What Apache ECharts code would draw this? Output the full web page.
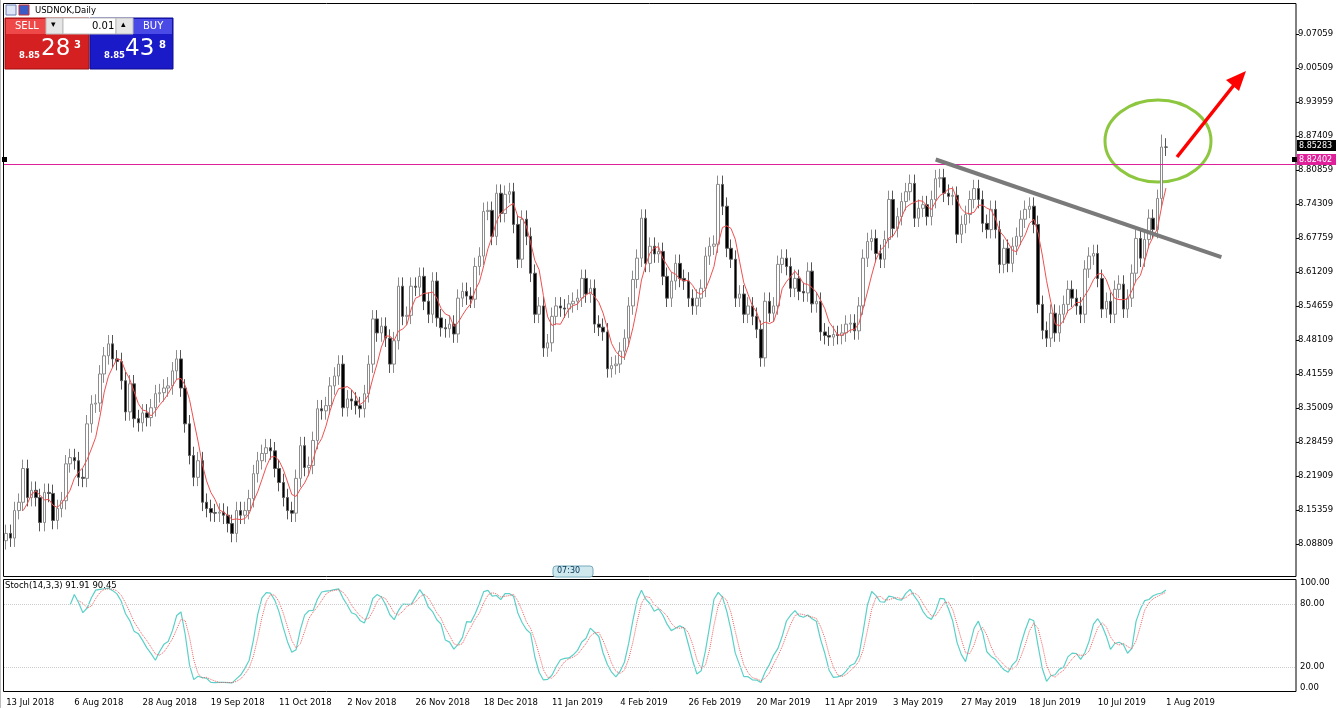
<!DOCTYPE html>
<html><head><meta charset="utf-8">
<script src="https://cdn.jsdelivr.net/npm/echarts@6/dist/echarts.min.js"></script>
<style>html,body{margin:0;padding:0;background:#fff}#c{width:1338px;height:708px}</style>
</head><body><div id="c"></div>
<script>
// Daily closes of USDNOK, 13 Jul 2018 .. 1 Aug 2019
const closes = [
8.109,8.100,8.153,8.169,8.234,8.178,8.192,8.178,8.130,8.188,8.186,8.134,8.157,8.172,8.243,8.255,
8.249,8.217,8.215,8.320,8.358,8.360,8.416,8.451,8.474,8.445,8.440,8.403,8.343,8.397,8.330,8.322,
8.341,8.332,8.351,8.378,8.380,8.389,8.393,8.422,8.445,8.389,8.320,8.259,8.217,8.249,8.169,8.157,
8.149,8.148,8.150,8.144,8.128,8.109,8.153,8.144,8.153,8.176,8.224,8.249,8.263,8.274,8.268,8.234,
8.207,8.178,8.153,8.148,8.215,8.278,8.236,8.240,8.288,8.349,8.345,8.355,8.393,8.412,8.435,8.351,
8.368,8.364,8.355,8.349,8.378,8.435,8.522,8.495,8.508,8.485,8.435,8.480,8.585,8.527,8.529,8.585,
8.583,8.604,8.556,8.531,8.595,8.524,8.505,8.503,8.512,8.493,8.562,8.575,8.566,8.560,8.623,8.643,
8.729,8.731,8.681,8.764,8.725,8.762,8.767,8.704,8.637,8.714,8.681,8.610,8.531,8.547,8.466,8.476,
8.527,8.547,8.543,8.541,8.551,8.556,8.562,8.600,8.570,8.581,8.512,8.506,8.497,8.426,8.432,8.435,
8.460,8.485,8.547,8.598,8.639,8.716,8.629,8.662,8.647,8.652,8.604,8.562,8.595,8.629,8.600,8.595,
8.562,8.547,8.562,8.581,8.643,8.662,8.666,8.781,8.739,8.658,8.637,8.562,8.570,8.531,8.547,8.527,
8.502,8.447,8.556,8.533,8.547,8.627,8.639,8.623,8.581,8.600,8.575,8.572,8.614,8.551,8.556,8.497,
8.490,8.487,8.492,8.490,8.495,8.512,8.514,8.499,8.547,8.639,8.671,8.677,8.648,8.637,8.675,8.752,
8.696,8.719,8.748,8.767,8.783,8.716,8.735,8.742,8.719,8.752,8.792,8.794,8.764,8.758,8.760,8.685,
8.704,8.723,8.752,8.773,8.752,8.706,8.694,8.733,8.694,8.627,8.658,8.629,8.662,8.681,8.714,8.733,
8.739,8.704,8.550,8.500,8.485,8.533,8.495,8.531,8.550,8.579,8.562,8.547,8.531,8.618,8.643,8.648,
8.600,8.541,8.556,8.531,8.579,8.589,8.541,8.562,8.610,8.677,8.639,8.675,8.716,8.694,8.754,8.853,
8.8528
];
const wick = 0.017;
const levelPrice = 8.82402;
const lastPrice = 8.85283;
const stochTicks = [0,20,80,100];
const totalSlots = 303;

const mon = ['Jan','Feb','Mar','Apr','May','Jun','Jul','Aug','Sep','Oct','Nov','Dec'];
const cats = [];
let d = new Date(Date.UTC(2018,6,13));
while (cats.length < totalSlots) {
  const wd = d.getUTCDay(), m = d.getUTCMonth(), dd = d.getUTCDate();
  if (wd!==0 && wd!==6 && !(m===11&&dd===25) && !(m===0&&dd===1)) cats.push(dd+' '+mon[m]+' '+d.getUTCFullYear());
  d = new Date(d.getTime()+86400000);
}
const ohlc = closes.map((c,i)=>{
  const o = i===0 ? 8.095 : closes[i-1];
  let h = Math.max(o,c)+wick, l = Math.min(o,c)-wick;
  if (i===271) h = 8.877;
  return [o,c,l,h];
});
const ma = closes.map((c,i)=> i<4?null: +(closes.slice(i-4,i+1).reduce((a,b)=>a+b,0)/5).toFixed(5));
const kArr=[], dArr=[];
for (let i=0;i<ohlc.length;i++){
  if (i<15){kArr.push(null);continue;}
  let num=0,den=0;
  for (let j=i-2;j<=i;j++){
    let hh=-1e9,ll=1e9;
    for (let k=j-13;k<=j;k++){hh=Math.max(hh,ohlc[k][3]);ll=Math.min(ll,ohlc[k][2]);}
    num+=closes[j]-ll; den+=hh-ll;
  }
  kArr.push(+(100*num/den).toFixed(2));
}
for (let i=0;i<kArr.length;i++){
  if (i<17||kArr[i-2]==null){dArr.push(null);continue;}
  dArr.push(+((kArr[i]+kArr[i-1]+kArr[i-2])/3).toFixed(2));
}
const font = 'DejaVu Sans';
const chart = echarts.init(document.getElementById('c'));
chart.setOption({
  animation:false,
  backgroundColor:'#fff',
  grid:[{left:4,right:42,top:-2.1,height:580.4},{left:4,right:42,top:583,height:105}],
  xAxis:[
    {type:'category',data:cats,gridIndex:0,boundaryGap:true,axisLine:{show:false},axisTick:{show:false},axisLabel:{show:false},splitLine:{show:false}},
    {type:'category',data:cats,gridIndex:1,boundaryGap:true,axisLine:{show:false},axisTick:{show:false},splitLine:{show:false},
     axisLabel:{interval:0,formatter:(v,i)=> (i%16===0 && i<=272)? v : '',align:'left',fontSize:8.5,fontFamily:font,color:'#000',margin:10}}
  ],
  yAxis:[
    {type:'value',gridIndex:0,position:'right',min:8.02259,max:9.13609,interval:0.0655,
     axisLine:{show:false},axisTick:{show:true,length:3,lineStyle:{color:'#000'}},splitLine:{show:false},
     axisLabel:{showMinLabel:false,showMaxLabel:false,fontSize:8.5,fontFamily:font,color:'#000',margin:2,formatter:v=>v.toFixed(5)}},
    {type:'value',gridIndex:1,position:'right',min:0,max:100,
     axisLine:{show:false},axisTick:{show:false},splitLine:{show:false},
     axisLabel:{fontSize:8.5,fontFamily:font,color:'#000',margin:4,customValues:stochTicks,formatter:v=>v.toFixed(2)}}
  ],
  series:[
    {type:'candlestick',xAxisIndex:0,yAxisIndex:0,data:ohlc,barWidth:3,
     itemStyle:{color:'#fff',color0:'#000',borderColor:'#8c8c8c',borderColor0:'#555',borderWidth:1},
     markLine:{silent:true,symbol:'none',animation:false,data:[
       {yAxis:levelPrice,lineStyle:{color:'#e0209a',width:1.2,type:'solid'},label:{show:false}},
       [{coord:[218.4,8.829]},{coord:[284.9,8.641]}]
     ],lineStyle:{color:'#7a7a7a',width:4,type:'solid'},label:{show:false}}
    },
    {type:'line',xAxisIndex:0,yAxisIndex:0,data:ma,showSymbol:false,lineStyle:{color:'#f05050',width:1}},
    {type:'line',xAxisIndex:1,yAxisIndex:1,data:kArr,showSymbol:false,lineStyle:{color:'#5bd0c8',width:1.2},
     markLine:{silent:true,symbol:'none',label:{show:false},lineStyle:{color:'#ccc',type:'dotted',width:1},data:[{yAxis:80},{yAxis:20}]}},
    {type:'line',xAxisIndex:1,yAxisIndex:1,data:dArr,showSymbol:false,lineStyle:{color:'#f06060',width:1,type:'dotted'}}
  ],
  graphic:[
    {type:'rect',shape:{x:3.5,y:3.5,width:1292.5,height:573},style:{fill:null,stroke:'#000',lineWidth:1},silent:true},
    {type:'rect',shape:{x:3.5,y:579.5,width:1292.5,height:112},style:{fill:null,stroke:'#000',lineWidth:1},silent:true},
    {type:'rect',shape:{x:0,y:0,width:1,height:708},style:{fill:'#bbb'}},
    {type:'rect',shape:{x:1297,y:154,width:39,height:11},style:{fill:'#e0209a'}},
    {type:'text',x:1299,y:155.5,style:{text:levelPrice.toFixed(5),fill:'#fff',font:'8px DejaVu Sans'}},
    {type:'rect',shape:{x:1297,y:140,width:39,height:11},style:{fill:'#000'}},
    {type:'text',x:1299,y:141.5,style:{text:lastPrice.toFixed(5),fill:'#fff',font:'8px DejaVu Sans'}},
    {type:'rect',shape:{x:2,y:157,width:5,height:5},style:{fill:'#000'}},
    {type:'rect',shape:{x:1292,y:157,width:5,height:5},style:{fill:'#000'}},
    {type:'ellipse',shape:{cx:1158,cy:141,rx:53,ry:41},style:{fill:null,stroke:'#8dc63f',lineWidth:3}},
    {type:'line',shape:{x1:1177,y1:157,x2:1234,y2:85},style:{stroke:'#ff0000',lineWidth:3.5}},
    {type:'polygon',shape:{points:[[1246,71],[1226,80],[1239,91]]},style:{fill:'#ff0000'}},
    {type:'rect',shape:{x:6,y:5,width:10,height:10},style:{fill:'#dfe6f5',stroke:'#6a7fb5'}},
    {type:'rect',shape:{x:19,y:5,width:10,height:10},style:{fill:'#3b5bc7',stroke:'#c33'}},
    {type:'text',x:35,y:6,style:{text:'USDNOK,Daily',fill:'#000',font:'8.5px DejaVu Sans'}},
    // trade panel
    {type:'rect',shape:{x:5,y:18,width:84,height:51},style:{fill:'#d42020',stroke:'#a01010'}},
    {type:'rect',shape:{x:90,y:18,width:83,height:51},style:{fill:'#1a1ac8',stroke:'#0c0c90'}},
    {type:'rect',shape:{x:6,y:19,width:40,height:15},style:{fill:'#ee4848'}},
    {type:'text',x:15,y:21,style:{text:'SELL',fill:'#fff',font:'10px DejaVu Sans'}},
    {type:'rect',shape:{x:133,y:19,width:39,height:15},style:{fill:'#4a4ae6'}},
    {type:'text',x:143,y:21,style:{text:'BUY',fill:'#fff',font:'10px DejaVu Sans'}},
    {type:'rect',shape:{x:46,y:18,width:17,height:16},style:{fill:'#e6e6e6',stroke:'#bbb'}},
    {type:'text',x:51,y:20,style:{text:'▾',fill:'#000',font:'9px DejaVu Sans'}},
    {type:'rect',shape:{x:63,y:18,width:53,height:16},style:{fill:'#fff',stroke:'#bbb'}},
    {type:'text',x:92,y:21,style:{text:'0.01',fill:'#000',font:'10px DejaVu Sans'}},
    {type:'rect',shape:{x:116,y:18,width:17,height:16},style:{fill:'#e6e6e6',stroke:'#bbb'}},
    {type:'text',x:121,y:20,style:{text:'▴',fill:'#000',font:'9px DejaVu Sans'}},
    {type:'text',x:19,y:51,style:{text:'8.85',fill:'#fff',font:'bold 8.5px DejaVu Sans'}},
    {type:'text',x:41,y:38,style:{text:'28',fill:'#fff',font:'23px DejaVu Sans'}},
    {type:'text',x:74,y:40,style:{text:'3',fill:'#fff',font:'bold 10px DejaVu Sans'}},
    {type:'text',x:104,y:51,style:{text:'8.85',fill:'#fff',font:'bold 8.5px DejaVu Sans'}},
    {type:'text',x:125,y:38,style:{text:'43',fill:'#fff',font:'23px DejaVu Sans'}},
    {type:'text',x:159,y:40,style:{text:'8',fill:'#fff',font:'bold 10px DejaVu Sans'}},
    {type:'text',x:5,y:581,style:{text:'Stoch(14,3,3) 91.91 90.45',fill:'#000',font:'8.5px DejaVu Sans'}},
    {type:'rect',shape:{x:553,y:566,width:40,height:11,r:3},style:{fill:'#cfe8ee',stroke:'#7ab'}},
    {type:'text',x:557,y:567,style:{text:'07:30',fill:'#035',font:'8px DejaVu Sans'}}
  ]
});
</script></body></html>
